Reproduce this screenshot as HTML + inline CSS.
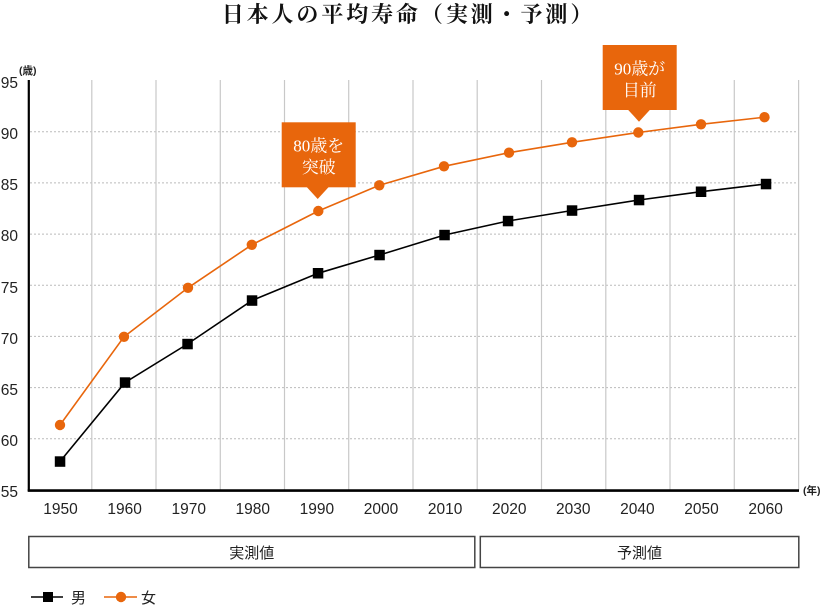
<!DOCTYPE html>
<html><head><meta charset="utf-8"><style>
html,body{margin:0;padding:0;background:#fff;}
svg{display:block;}
.sans{font-family:"Liberation Sans","Noto Sans CJK JP",sans-serif;}
.serif{font-family:"Liberation Serif","Noto Serif CJK SC",serif;}
</style></head><body>
<svg width="824" height="605" viewBox="0 0 824 605" xmlns="http://www.w3.org/2000/svg">
<text x="408.5" y="22" text-anchor="middle" class="serif" font-size="22" font-weight="bold" letter-spacing="2.9" fill="#111">日本人の平均寿命（実測・予測）</text>
<g stroke="#bbb" stroke-width="1" stroke-dasharray="2,2">
<line x1="30" y1="131.7" x2="799" y2="131.7"/>
<line x1="30" y1="182.9" x2="799" y2="182.9"/>
<line x1="30" y1="234.1" x2="799" y2="234.1"/>
<line x1="30" y1="285.3" x2="799" y2="285.3"/>
<line x1="30" y1="336.4" x2="799" y2="336.4"/>
<line x1="30" y1="387.6" x2="799" y2="387.6"/>
<line x1="30" y1="438.8" x2="799" y2="438.8"/>
</g>
<g stroke="#c8c8c8" stroke-width="1.2">
<line x1="91.8" y1="80" x2="91.8" y2="490"/>
<line x1="156" y1="80" x2="156" y2="490"/>
<line x1="220.3" y1="80" x2="220.3" y2="490"/>
<line x1="284.5" y1="80" x2="284.5" y2="490"/>
<line x1="348.7" y1="80" x2="348.7" y2="490"/>
<line x1="413" y1="80" x2="413" y2="490"/>
<line x1="477.2" y1="80" x2="477.2" y2="490"/>
<line x1="541.5" y1="80" x2="541.5" y2="490"/>
<line x1="605.8" y1="80" x2="605.8" y2="490"/>
<line x1="670" y1="80" x2="670" y2="490"/>
<line x1="734.3" y1="80" x2="734.3" y2="490"/>
<line x1="798.6" y1="80" x2="798.6" y2="490"/>
</g>
<line x1="28.8" y1="80" x2="28.8" y2="491" stroke="#000" stroke-width="2.2"/>
<line x1="27.7" y1="490.6" x2="799" y2="490.6" stroke="#000" stroke-width="2.6"/>
<g class="sans" font-size="15.5" fill="#222" text-anchor="end">
<text x="18" y="88">95</text>
<text x="18" y="139">90</text>
<text x="18" y="190">85</text>
<text x="18" y="241">80</text>
<text x="18" y="293">75</text>
<text x="18" y="344">70</text>
<text x="18" y="395">65</text>
<text x="18" y="446">60</text>
<text x="18" y="497">55</text>
</g>
<text x="19" y="74" class="sans" font-size="10.5" font-weight="bold" fill="#222">(歳)</text>
<text x="803" y="494" class="sans" font-size="10.5" font-weight="bold" fill="#222">(年)</text>
<g class="sans" font-size="15.5" fill="#222" text-anchor="middle">
<text x="60.5" y="514">1950</text>
<text x="124.6" y="514">1960</text>
<text x="188.7" y="514">1970</text>
<text x="252.8" y="514">1980</text>
<text x="316.9" y="514">1990</text>
<text x="381" y="514">2000</text>
<text x="445.1" y="514">2010</text>
<text x="509.2" y="514">2020</text>
<text x="573.3" y="514">2030</text>
<text x="637.4" y="514">2040</text>
<text x="701.5" y="514">2050</text>
<text x="765.6" y="514">2060</text>
</g>
<polyline fill="none" stroke="#000" stroke-width="1.6" points="60,461.5 125,382.5 187.5,344 252,300.5 318,273.3 379.5,255 444.5,235 508,221 572,210.5 639,200 701,191.7 766,184"/>
<g fill="#000">
<rect x="54.8" y="456.3" width="10.5" height="10.5"/>
<rect x="119.8" y="377.3" width="10.5" height="10.5"/>
<rect x="182.3" y="338.8" width="10.5" height="10.5"/>
<rect x="246.8" y="295.3" width="10.5" height="10.5"/>
<rect x="312.8" y="268" width="10.5" height="10.5"/>
<rect x="374.3" y="249.8" width="10.5" height="10.5"/>
<rect x="439.3" y="229.8" width="10.5" height="10.5"/>
<rect x="502.8" y="215.8" width="10.5" height="10.5"/>
<rect x="566.8" y="205.3" width="10.5" height="10.5"/>
<rect x="633.8" y="194.8" width="10.5" height="10.5"/>
<rect x="695.8" y="186.5" width="10.5" height="10.5"/>
<rect x="760.8" y="178.8" width="10.5" height="10.5"/>
</g>
<polyline fill="none" stroke="#e8660c" stroke-width="1.6" points="60,425 124,336.8 188,287.8 251.8,244.8 318.3,211 379.3,185.3 444,166.3 509,152.7 572,142.3 638.3,132.5 701,124.3 764.5,117.2"/>
<g fill="#e8660c">
<circle cx="60" cy="425" r="5.2"/>
<circle cx="124" cy="336.8" r="5.2"/>
<circle cx="188" cy="287.8" r="5.2"/>
<circle cx="251.8" cy="244.8" r="5.2"/>
<circle cx="318.3" cy="211" r="5.2"/>
<circle cx="379.3" cy="185.3" r="5.2"/>
<circle cx="444" cy="166.3" r="5.2"/>
<circle cx="509" cy="152.7" r="5.2"/>
<circle cx="572" cy="142.3" r="5.2"/>
<circle cx="638.3" cy="132.5" r="5.2"/>
<circle cx="701" cy="124.3" r="5.2"/>
<circle cx="764.5" cy="117.2" r="5.2"/>
</g>
<g fill="#e8660c">
<rect x="281.7" y="122.3" width="74" height="65"/>
<polygon points="306.7,187 328.7,187 317.7,199"/>
<rect x="602.7" y="45" width="74" height="65"/>
<polygon points="628,109.7 650,109.7 639,121.7"/>
</g>
<g class="serif" font-size="17" fill="#fff" text-anchor="middle">
<text x="318.7" y="151.5">80歳を</text>
<text x="318.7" y="173">突破</text>
<text x="639.7" y="74.5">90歳が</text>
<text x="639.7" y="96">目前</text>
</g>
<rect x="28.8" y="536.5" width="446" height="31" fill="none" stroke="#444" stroke-width="1.5"/>
<rect x="480.3" y="536.5" width="318.5" height="31" fill="none" stroke="#444" stroke-width="1.5"/>
<text x="251.8" y="558" text-anchor="middle" class="sans" font-size="15" fill="#222">実測値</text>
<text x="639.5" y="558" text-anchor="middle" class="sans" font-size="15" fill="#222">予測値</text>
<line x1="31" y1="597" x2="63" y2="597" stroke="#000" stroke-width="1.6"/>
<rect x="43" y="592" width="10" height="10" fill="#000"/>
<text x="71" y="603" class="sans" font-size="15" fill="#222">男</text>
<line x1="104" y1="597" x2="137" y2="597" stroke="#e8660c" stroke-width="1.6"/>
<circle cx="121" cy="597" r="5.2" fill="#e8660c"/>
<text x="141" y="603" class="sans" font-size="15" fill="#222">女</text>
</svg>
</body></html>
